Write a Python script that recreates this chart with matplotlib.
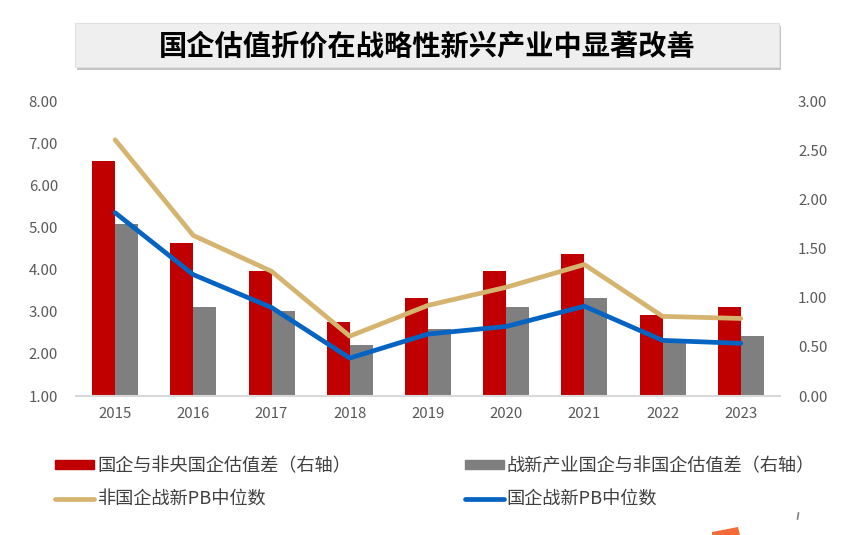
import numpy as np
import matplotlib
matplotlib.use('Agg')
import matplotlib.pyplot as plt
from matplotlib.patches import Rectangle, Polygon
from matplotlib.lines import Line2D

plt.rcParams['font.family'] = ['Noto Sans CJK SC', 'DejaVu Sans']

years = ['2015', '2016', '2017', '2018', '2019', '2020', '2021', '2022', '2023']
# right axis (bars)
soe_gap = [2.39, 1.56, 1.27, 0.75, 1.00, 1.27, 1.44, 0.82, 0.91]
sei_gap = [1.75, 0.91, 0.86, 0.52, 0.68, 0.91, 1.00, 0.55, 0.61]
# left axis (lines)
non_soe_pb = [7.08, 4.81, 3.96, 2.42, 3.15, 3.58, 4.12, 2.89, 2.84]
soe_pb = [5.35, 3.88, 3.10, 1.90, 2.47, 2.65, 3.13, 2.32, 2.25]

labels = ['国企与非央国企估值差（右轴）', '战新产业国企与非国企估值差（右轴）',
          '非国企战新PB中位数', '国企战新PB中位数']

c_red = '#C00000'
c_gray = '#7F7F7F'
c_gold = '#D4B46E'
c_blue = '#0563C1'
c_tick = '#595959'

fig = plt.figure(figsize=(8.45, 5.35), dpi=100)
ax = fig.add_axes([0.0899, 0.2598, 0.8331, 0.5514])
ax2 = ax.twinx()

x = np.arange(len(years))
w = 0.294
ax2.bar(x - w / 2, soe_gap, width=w, color=c_red)
ax2.bar(x + w / 2, sei_gap, width=w, color=c_gray)
ax.plot(x, non_soe_pb, color=c_gold, lw=3.4, solid_capstyle='round')
ax.plot(x, soe_pb, color=c_blue, lw=3.4, solid_capstyle='round')

ax.set_zorder(ax2.get_zorder() + 1)
ax.patch.set_visible(False)

ax.set_xlim(-0.5, 8.5)
ax.set_ylim(1, 8)
ax2.set_ylim(0, 3)
ax.set_yticks(np.arange(1, 9))
ax2.set_yticks(np.arange(0, 3.01, 0.5))
ax.yaxis.set_major_formatter(lambda v, p: f'{v:.2f}')
ax2.yaxis.set_major_formatter(lambda v, p: f'{v:.2f}')
ax.set_xticks(x)
ax.set_xticklabels(years)

for a in (ax, ax2):
    for s in a.spines.values():
        s.set_visible(False)
    a.tick_params(length=0, colors=c_tick, labelsize=10.8)
ax.tick_params(axis='y', pad=13)
ax2.tick_params(axis='y', pad=13)
ax.tick_params(axis='x', pad=8)
ax.spines['bottom'].set_visible(True)
ax.spines['bottom'].set_color('#D9D9D9')
ax.spines['bottom'].set_linewidth(1.5)

# title box with shadow
fig.add_artist(Rectangle((77 / 845, 1 - 70 / 535), 704 / 845, 44 / 535,
                         transform=fig.transFigure, facecolor='#C4C4C4',
                         edgecolor='none', zorder=1))
fig.add_artist(Rectangle((75 / 845, 1 - 67 / 535), 704 / 845, 44 / 535,
                         transform=fig.transFigure, facecolor='#EFEFEF',
                         edgecolor='#E0E0E0', lw=0.8, zorder=2))
fig.text(427 / 845, 1 - 47 / 535, '国企估值折价在战略性新兴产业中显著改善',
         ha='center', va='center', fontsize=20.3, fontweight='bold',
         color='black', zorder=3)

handles = [Rectangle((0, 0), 1, 1, color=c_red),
           Rectangle((0, 0), 1, 1, color=c_gray),
           Line2D([], [], color=c_gold, lw=3.4, solid_capstyle='round'),
           Line2D([], [], color=c_blue, lw=3.4, solid_capstyle='round')]
order = [0, 2, 1, 3]
leg = fig.legend([handles[i] for i in order], [labels[i] for i in order],
                 loc='upper left', bbox_to_anchor=(55 / 845, 1 - 457 / 535),
                 ncol=2, frameon=False, fontsize=13.1, handlelength=2.14,
                 handleheight=0.42, handletextpad=0.17, columnspacing=6.26,
                 labelspacing=0.86, borderpad=0, borderaxespad=0)
for t in leg.get_texts():
    t.set_color('#404040')

# small decorative marks at the bottom edge
fig.add_artist(Polygon([(712 / 845, 0), (740 / 845, 0), (738 / 845, 8 / 535),
                        (712 / 845, 3 / 535)], closed=True,
                       transform=fig.transFigure, facecolor='#F26B38',
                       edgecolor='none'))
fig.add_artist(Line2D([797.5 / 845, 798.5 / 845], [1 - 519 / 535, 1 - 513 / 535],
                      transform=fig.transFigure, color='#808080', lw=1.2))

fig.savefig('out.png', dpi=100)
